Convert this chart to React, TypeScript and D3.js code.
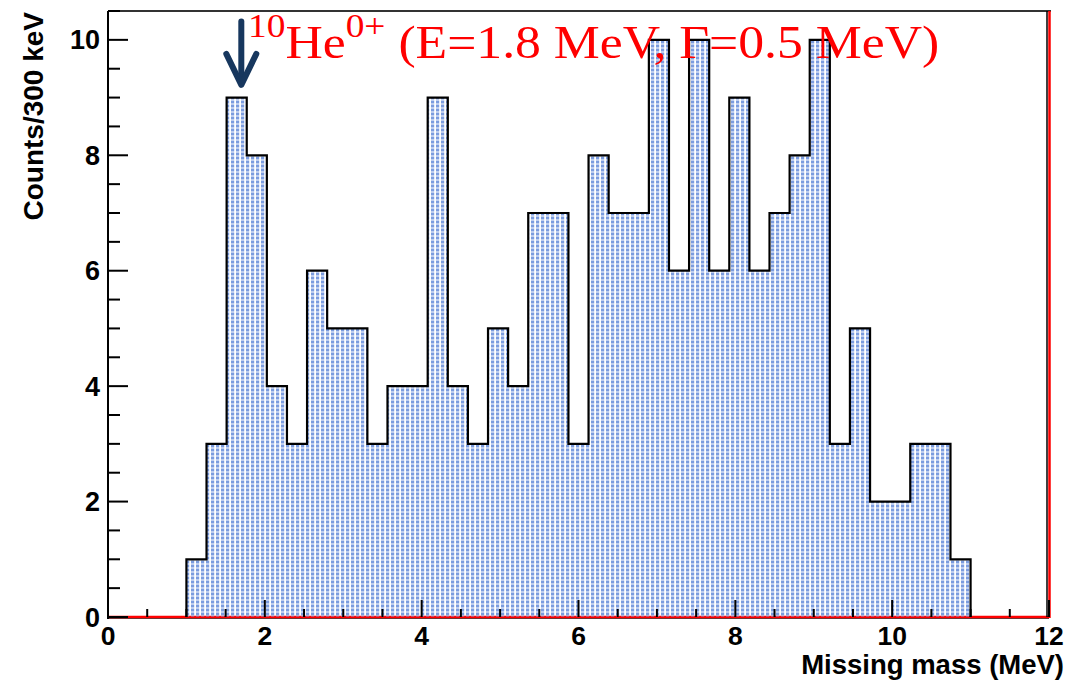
import React from 'react';
import * as d3 from 'd3';

// ---- data ----
const binStart = 1.0;
const binEnd = 11.0;
const counts = [1, 3, 9, 8, 4, 3, 6, 5, 5, 3, 4, 4, 9, 4, 3, 5, 4, 7, 7, 3, 8, 7, 7, 10, 6, 10, 6, 9, 6, 7, 8, 10, 3, 5, 2, 2, 3, 3, 1];
const xMajorTicks = [0, 2, 4, 6, 8, 10, 12];
const yMajorTicks = [0, 2, 4, 6, 8, 10];
const xTitle = 'Missing mass (MeV)';
const yTitle = 'Counts/300 keV';
const arrowEnergy = 1.7;
const arrowTop = 10.32;
const arrowTip = 9.22;

const W = 1077;
const H = 680;

export default function App() {
  const x = d3.scaleLinear().domain([0, 12]).range([108, 1049]);
  const y = d3.scaleLinear().domain([0, 10.5]).range([617, 11]);

  const bw = (binEnd - binStart) / counts.length;
  const pts: [number, number][] = [[binStart, 0]];
  counts.forEach((c, i) => {
    pts.push([binStart + i * bw, c]);
    pts.push([binStart + (i + 1) * bw, c]);
  });
  pts.push([binEnd, 0]);
  const line = d3.line<[number, number]>().x(d => x(d[0])).y(d => y(d[1]));
  const histPath = line(pts) || '';

  const xMinor = d3.range(0, 12.001, 0.5);
  const yMinor = d3.range(0, 10.501, 0.5);

  const x0 = x(0);
  const x1 = x(12);
  const y0 = y(0);
  const yTop = y(10.5);

  const ax = x(arrowEnergy);
  const aTop = y(arrowTop);
  const aTip = y(arrowTip);

  const sans = '"Liberation Sans", Arial, Helvetica, sans-serif';
  const serif = '"Liberation Serif", "Times New Roman", serif';

  return (
    <svg width={W} height={H} style={{ position: 'absolute', left: 0, top: 0, background: '#fff' }}>
      <defs>
        <pattern id="dots" width={5} height={4} patternUnits="userSpaceOnUse">
          <rect x={1} y={0.5} width={3.2} height={3} fill="#7b9cdf" />
        </pattern>
      </defs>

      {/* baseline (red function) */}
      <line x1={x0} x2={x1} y1={y0 + 1.5} y2={y0 + 1.5} stroke="#444" strokeWidth={1.2} />
      <line x1={x0} x2={x1} y1={y0} y2={y0} stroke="#ff0000" strokeWidth={2.5} />

      {/* histogram */}
      <path d={histPath} fill="url(#dots)" stroke="none" />
      <path d={histPath} fill="none" stroke="#000" strokeWidth={2.2} strokeLinejoin="miter" />

      {/* frame */}
      <line x1={x0} x2={x1 + 2} y1={yTop} y2={yTop} stroke="#333" strokeWidth={2} />
      <line x1={x0} x2={x0} y1={yTop} y2={y0 + 2} stroke="#000" strokeWidth={2} />
      <line x1={x1 - 2} x2={x1 - 2} y1={yTop} y2={y0} stroke="#000" strokeWidth={1.5} />
      <line x1={x1 + 0.5} x2={x1 + 0.5} y1={yTop} y2={y0 + 1} stroke="#ff0000" strokeWidth={2.5} />

      {/* x ticks */}
      {xMinor.map(v => {
        const major = Math.abs(v / 2 - Math.round(v / 2)) < 1e-6;
        return (
          <line key={'xt' + v} x1={x(v)} x2={x(v)} y1={y0} y2={y0 - (major ? 17 : 8)} stroke="#000" strokeWidth={2} />
        );
      })}
      {xMajorTicks.map(v => (
        <text key={'xl' + v} x={x(v)} y={645} textAnchor="middle" fontFamily={sans} fontWeight="bold" fontSize={26.5} fill="#000">
          {v}
        </text>
      ))}
      <text x={1064} y={674} textAnchor="end" fontFamily={sans} fontWeight="bold" fontSize={27.5} fill="#000">
        {xTitle}
      </text>

      {/* y ticks */}
      {yMinor.map(v => {
        const major = Math.abs(v / 2 - Math.round(v / 2)) < 1e-6;
        return (
          <line key={'yt' + v} x1={x0} x2={x0 + (major ? 20 : 12)} y1={y(v)} y2={y(v)} stroke="#000" strokeWidth={2} />
        );
      })}
      {yMajorTicks.map(v => (
        <text key={'yl' + v} x={100} y={y(v) + 9.5} textAnchor="end" fontFamily={sans} fontWeight="bold" fontSize={27} fill="#000">
          {v}
        </text>
      ))}
      <text
        transform={`translate(43,12) rotate(-90)`}
        textAnchor="end"
        fontFamily={sans}
        fontWeight="bold"
        fontSize={28}
        fill="#000"
      >
        {yTitle}
      </text>

      {/* arrow */}
      <g stroke="#17375e" strokeWidth={6} strokeLinecap="round" strokeLinejoin="round" fill="none">
        <line x1={ax} x2={ax} y1={aTop} y2={aTip - 2} />
        <polyline points={`${ax - 15},${aTip - 31} ${ax},${aTip} ${ax + 15},${aTip - 31}`} />
      </g>

      {/* annotation */}
      <g transform="translate(248,58) scale(1.1,1)">
        <text x={0} y={0} fontFamily={serif} fontSize={47} fill="#ff0000">
          <tspan fontSize={34} dy={-21}>10</tspan>
          <tspan dy={21}>He</tspan>
          <tspan fontSize={34} dy={-21}>0+</tspan>
          <tspan dy={21}> (E=1.8 MeV, Γ=0.5 MeV)</tspan>
        </text>
      </g>
    </svg>
  );
}
